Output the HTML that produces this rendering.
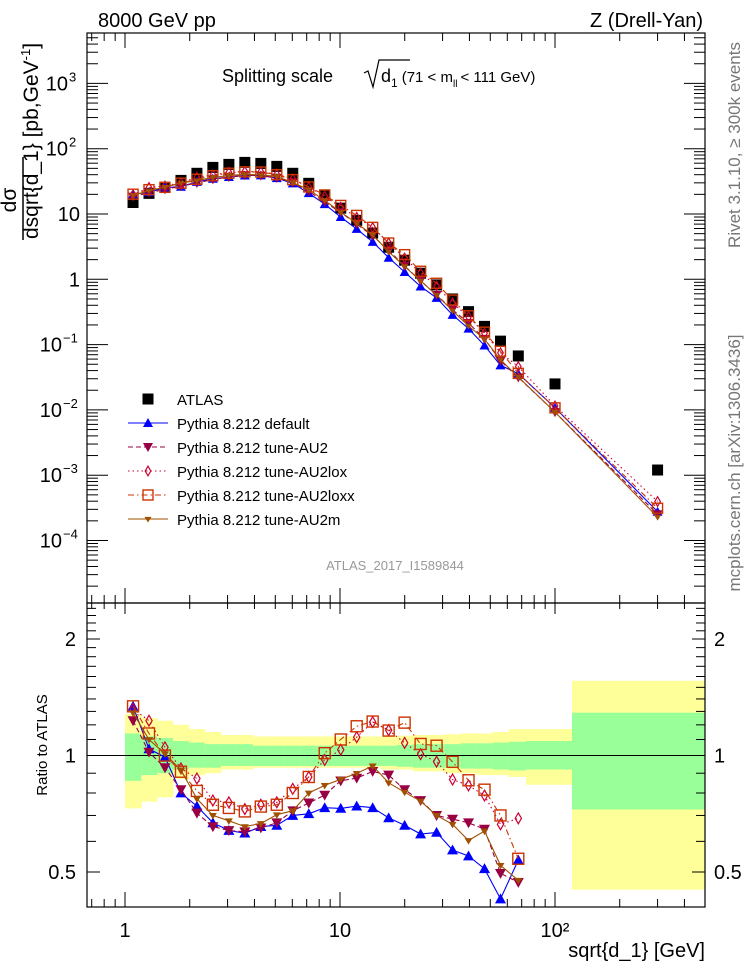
<!DOCTYPE html>
<html><head><meta charset="utf-8"><title>Splitting scale sqrt(d1)</title>
<style>
html,body{margin:0;padding:0;background:#fff;}
svg{display:block;font-family:"Liberation Sans",sans-serif;}
</style></head>
<body>
<svg id="chart" width="746" height="972" viewBox="0 0 746 972" xmlns="http://www.w3.org/2000/svg">
<g id="bands"></g>
<line x1="87" x2="705" y1="755.5" y2="755.5" stroke="#000" stroke-width="1"/>
<g id="axes"></g>
<g id="series"></g>
<g id="legend"></g>
<text x="98" y="27" font-size="20">8000 GeV pp</text>
<text x="703" y="27" font-size="20" text-anchor="end">Z (Drell-Yan)</text>
<g font-size="18">
<text x="222" y="82">Splitting scale</text>
<path d="M364,73 L368,71 L373,87 L379,60 L410,60" fill="none" stroke="#000" stroke-width="1.2"/>
<text x="381" y="82">d<tspan font-size="12" dy="5">1</tspan><tspan font-size="15" dy="-5" dx="4">(71 &lt; m</tspan><tspan font-size="10" dy="5">ll</tspan><tspan font-size="15" dy="-5" dx="3">&lt; 111 GeV)</tspan></text>
</g>
<text x="395" y="570" font-size="13" fill="#999" text-anchor="middle">ATLAS_2017_I1589844</text>
<g font-size="21">
<text transform="translate(16,200) rotate(-90)" text-anchor="middle">dσ</text>
<line x1="23" x2="23" y1="157" y2="240" stroke="#000" stroke-width="1.5"/>
<text transform="translate(38,239) rotate(-90)">dsqrt{d_1} [pb,GeV<tspan font-size="13" dy="-8">-1</tspan><tspan dy="8">]</tspan></text>
</g>
<text transform="translate(740,145) rotate(-90)" font-size="17" fill="#777" text-anchor="middle">Rivet 3.1.10, ≥ 300k events</text>
<text transform="translate(740,463) rotate(-90)" font-size="17" fill="#777" text-anchor="middle">mcplots.cern.ch [arXiv:1306.3436]</text>
<text transform="translate(47,745) rotate(-90)" font-size="15" text-anchor="middle">Ratio to ATLAS</text>
<text x="705" y="957" font-size="20" text-anchor="end">sqrt{d_1} [GeV]</text>
</svg>
<script>
// ---- data ----
const xVals = [1.09,1.293,1.534,1.821,2.16,2.563,3.042,3.609,4.283,5.082,6.03,7.156,8.49,10.08,11.96,14.19,16.84,19.98,23.71,28.13,33.38,39.61,47.0,55.78,67.5,100,300];
const binEdges = [1.0,1.19,1.41,1.67,1.98,2.35,2.79,3.31,3.93,4.67,5.54,6.57,7.8,9.26,11.0,13.0,15.5,18.4,21.8,25.9,30.7,36.4,43.2,51.3,60.9,73.3,120,495];
const atlasVals = [15,20.7,25.6,32.7,42,51.7,57.5,61.7,59.5,53.6,42,29.5,19.3,12.3,8.0,5.1,3.1,1.96,1.24,0.82,0.50,0.32,0.19,0.113,0.067,0.025,0.0012];
const greenUp = [1.14,1.12,1.11,1.09,1.08,1.07,1.07,1.07,1.06,1.06,1.06,1.06,1.06,1.06,1.06,1.06,1.06,1.065,1.07,1.07,1.07,1.075,1.075,1.08,1.085,1.09,1.29];
const greenDn = [0.86,0.89,0.90,0.92,0.93,0.93,0.94,0.94,0.94,0.94,0.94,0.94,0.94,0.94,0.94,0.94,0.94,0.935,0.93,0.93,0.93,0.925,0.925,0.92,0.915,0.92,0.725];
const yellowUp = [1.28,1.25,1.23,1.2,1.17,1.15,1.13,1.13,1.12,1.12,1.12,1.12,1.12,1.12,1.12,1.12,1.12,1.125,1.13,1.13,1.135,1.14,1.14,1.15,1.17,1.17,1.56];
const yellowDn = [0.73,0.76,0.78,0.87,0.89,0.90,0.92,0.92,0.93,0.93,0.93,0.93,0.93,0.93,0.93,0.93,0.92,0.92,0.91,0.91,0.90,0.90,0.89,0.89,0.88,0.84,0.45];
const ratioDefault = [1.34,1.04,0.99,0.80,0.74,0.67,0.64,0.63,0.655,0.66,0.70,0.707,0.733,0.73,0.74,0.733,0.69,0.66,0.627,0.633,0.57,0.55,0.51,0.426,0.537,0.43,0.23];
const ratioAU2 = [1.23,1.02,0.93,0.816,0.71,0.655,0.64,0.635,0.65,0.67,0.72,0.754,0.79,0.86,0.874,0.91,0.89,0.816,0.765,0.70,0.685,0.67,0.645,0.496,0.47,0.37,0.21];
const ratioAU2lox = [1.32,1.23,1.05,0.926,0.872,0.765,0.757,0.727,0.746,0.757,0.82,0.88,0.974,1.035,1.115,1.22,1.163,1.078,1.008,0.964,0.867,0.837,0.788,0.664,0.688,0.46,0.33];
const ratioAU2loxx = [1.34,1.14,1.0,0.908,0.81,0.746,0.732,0.717,0.738,0.746,0.80,0.88,1.014,1.10,1.19,1.224,1.16,1.216,1.071,1.06,0.963,0.863,0.816,0.70,0.541,0.43,0.26];
const ratioAU2m = [1.29,1.10,1.01,0.917,0.773,0.70,0.678,0.655,0.667,0.703,0.72,0.80,0.837,0.868,0.899,0.94,0.85,0.804,0.762,0.70,0.664,0.603,0.638,0.52,0.476,0.37,0.19];
const legendLabels = ["ATLAS","Pythia 8.212 default","Pythia 8.212 tune-AU2","Pythia 8.212 tune-AU2lox","Pythia 8.212 tune-AU2loxx","Pythia 8.212 tune-AU2m"];
const nRatioPts = 25;

// ---- axis functions ----
const NS = "http://www.w3.org/2000/svg";
const L = 87, R = 705, T = 33, MID = 603, B = 907;
function X(v){ return 125 + 215*Math.log10(v); }
function Y(v){ return 279.3 - 65.3*Math.log10(v); }
function YR(r){ return 755.5 - 116.5*Math.log2(r); }
function mk(tag, attrs, parent){ const e=document.createElementNS(NS,tag); for(const k in attrs) e.setAttribute(k,attrs[k]); if(parent) parent.appendChild(e); return e; }

const svg = document.getElementById('chart');
const defs = mk('defs',{},svg);
const cpT = mk('clipPath',{id:'clipTop'},defs); mk('rect',{x:L,y:T,width:R-L,height:MID-T},cpT);
const cpB = mk('clipPath',{id:'clipBot'},defs); mk('rect',{x:L,y:MID,width:R-L,height:B-MID},cpB);

// bands
const bands = document.getElementById('bands');
bands.setAttribute('clip-path','url(#clipBot)');
for(let i=0;i<atlasVals.length;i++){
  const x0=X(binEdges[i]), x1=X(binEdges[i+1]);
  const y = mk('rect',{x:x0,y:YR(yellowUp[i]),width:x1-x0+0.5,height:YR(yellowDn[i])-YR(yellowUp[i]),fill:'#ffff99'},bands);
  
  
  const g = mk('rect',{x:x0,y:YR(greenUp[i]),width:x1-x0+0.5,height:YR(greenDn[i])-YR(greenUp[i]),fill:'#99ff99'},bands);
  
  
}

// axes
const axes = document.getElementById('axes');
mk('rect',{x:L,y:T,width:R-L,height:MID-T,fill:'none',stroke:'#000','stroke-width':1.2},axes);
mk('rect',{x:L,y:MID,width:R-L,height:B-MID,fill:'none',stroke:'#000','stroke-width':1.2},axes);
function tick(x1,y1,x2,y2){ mk('line',{x1,y1,x2,y2,stroke:'#000','stroke-width':1},axes); }
for(let d=-1; d<=2; d++){
  for(let m=1;m<=9;m++){
    const v=m*Math.pow(10,d); const x=X(v);
    if(x<L||x>R) continue;
    const maj=(m===1);
    tick(x,T,x,T+(maj?15:8)); tick(x,MID,x,MID-(maj?15:8));
    tick(x,MID,x,MID+(maj?11:6)); tick(x,B,x,B-(maj?15:8));
  }
}
const xLabs=[[1,'1'],[10,'10'],[100,'10²']];
xLabs.forEach(([v,t])=>{ const e=mk('text',{x:X(v),y:937,'font-size':20,'text-anchor':'middle'},axes); e.textContent=t;
  
   });
for(let d=-5; d<=3; d++){
  for(let m=1;m<=9;m++){
    const v=m*Math.pow(10,d); const y=Y(v);
    if(y<T||y>MID) continue;
    const maj=(m===1);
    tick(L,y,L+(maj?21:11),y); tick(R,y,R-(maj?21:11),y);
  }
}
const yLabs=[[1000,'10','3'],[100,'10','2'],[10,'10',''],[1,'1',''],[0.1,'10','−1'],[0.01,'10','−2'],[0.001,'10','−3'],[0.0001,'10','−4']];
yLabs.forEach(([v,b,s])=>{
  const e=mk('text',{x:s?(s.length>1?62:68):80,y:Y(v)+7,'font-size':20,'text-anchor':'end'},axes);
  
  
  e.textContent=b;
  if(s){ const t=mk('tspan',{'font-size':13,dy:-9,x:s.length>1?63:69},e); t.textContent=s; t.setAttribute('text-anchor','start'); }
});
for(let k=4;k<=24;k++){
  const r=k/10; const y=YR(r); if(y<MID||y>B) continue;
  const maj=(k===5||k===10||k===20);
  tick(L,y,L+(maj?13:9),y); tick(R,y,R-(maj?13:9),y);
}
[[2,'2'],[1,'1'],[0.5,'0.5']].forEach(([r,t])=>{
  const a=mk('text',{x:76,y:YR(r)+7,'font-size':20,'text-anchor':'end'},axes); a.textContent=t;
  
  
  const b=mk('text',{x:714,y:YR(r)+7,'font-size':20},axes); b.textContent=t;
  
  
});

function marker(g,type,x,y,color,s){
  if(type==='sq') return mk('rect',{x:x-s,y:y-s,width:2*s,height:2*s,fill:color},g);
  if(type==='up') return mk('path',{d:`M${x},${y-s} L${x+s},${y+s*0.8} L${x-s},${y+s*0.8} Z`,fill:color},g);
  if(type==='dn') return mk('path',{d:`M${x},${y+s} L${x+s},${y-s*0.8} L${x-s},${y-s*0.8} Z`,fill:color},g);
  if(type==='dia') return mk('path',{d:`M${x},${y-s*1.2} L${x+s*0.7},${y} L${x},${y+s*1.2} L${x-s*0.7},${y} Z`,fill:'none',stroke:color,'stroke-width':1.2},g);
  if(type==='osq') return mk('rect',{x:x-s,y:y-s,width:2*s,height:2*s,fill:'none',stroke:color,'stroke-width':1.4},g);
  if(type==='star') return mk('path',{d:`M${x},${y+s} L${x+s},${y-s*0.6} L${x-s},${y-s*0.6} Z`,fill:color},g);
}
const seriesDefs = [
  {name:'default',ratio:ratioDefault,color:'#0000ff',type:'up',dash:'',size:5},
  {name:'au2',ratio:ratioAU2,color:'#990044',type:'dn',dash:'5,3',size:5},
  {name:'au2lox',ratio:ratioAU2lox,color:'#cc0033',type:'dia',dash:'1.5,3',size:4},
  {name:'au2loxx',ratio:ratioAU2loxx,color:'#cc3300',type:'osq',dash:'6,3,1.5,3',size:5},
  {name:'au2m',ratio:ratioAU2m,color:'#a05000',type:'star',dash:'',size:3.5}
];
const series = document.getElementById('series');
const gTop = mk('g',{'clip-path':'url(#clipTop)'},series);


const gBot = mk('g',{'clip-path':'url(#clipBot)'},series);



atlasVals.forEach((v,i)=>{
  const m=marker(gTop,'sq',X(xVals[i]),Y(v),'#000',5.5);
  
  
});
seriesDefs.forEach(sd=>{
  const ptsT = sd.ratio.map((r,i)=>`${X(xVals[i]).toFixed(1)},${Y(atlasVals[i]*r).toFixed(1)}`).join(' ');
  const lt = mk('polyline',{points:ptsT,fill:'none',stroke:sd.color,'stroke-width':1.1,'stroke-dasharray':sd.dash},gTop);
  
  
  sd.ratio.forEach((r,i)=>{
    const m=marker(gTop,sd.type,X(xVals[i]),Y(atlasVals[i]*r),sd.color,sd.size);
    
    
  });
  const rr = sd.ratio.slice(0,nRatioPts);
  const ptsB = rr.map((r,i)=>`${X(xVals[i]).toFixed(1)},${YR(r).toFixed(1)}`).join(' ');
  const lb = mk('polyline',{points:ptsB,fill:'none',stroke:sd.color,'stroke-width':1.1,'stroke-dasharray':sd.dash},gBot);
  
  
  rr.forEach((r,i)=>{
    const m=marker(gBot,sd.type,X(xVals[i]),YR(r),sd.color,sd.size+0.5);
    
    
  });
});

const legend = document.getElementById('legend');
legendLabels.forEach((lab,i)=>{
  const y=399+24*i;
  const g=mk('g',{},legend);
  
  
  if(i===0){ marker(g,'sq',148,y,'#000',5.5); }
  else{
    const sd=seriesDefs[i-1];
    mk('line',{x1:128,x2:168,y1:y,y2:y,stroke:sd.color,'stroke-width':1.1,'stroke-dasharray':sd.dash},g);
    marker(g,sd.type,148,y,sd.color,sd.size);
  }
  const t=mk('text',{x:177,y:y+6,'font-size':15},g); t.textContent=lab;
});
</script>
</body></html>
